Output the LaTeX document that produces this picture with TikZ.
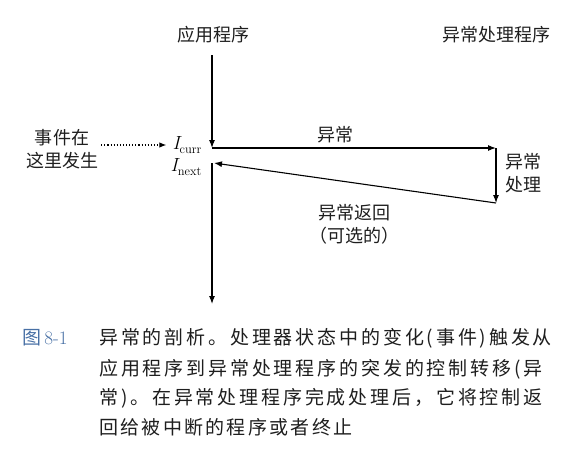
\documentclass[tikz,border=0pt]{standalone}
\usepackage[no-math]{fontspec}
\usepackage{amsmath}
\usepackage{tikz}
\usetikzlibrary{arrows.meta, positioning}
\newfontfamily\cjk{Noto Sans CJK SC}
\newfontfamily\cjkcap[LetterSpace=15]{Noto Sans CJK SC}
\newfontfamily\cjkcaplast[LetterSpace=12]{Noto Sans CJK SC}
\definecolor{figblue}{RGB}{72,112,165}
\definecolor{captext}{RGB}{30,30,30}
\newcommand{\instr}[1]{{\fontsize{19}{20}\selectfont\itshape I}\raisebox{-3.5pt}{\fontsize{12.5}{13}\selectfont #1}}

\begin{document}
\begin{tikzpicture}[x=1pt, y=-1pt,
    lbl/.style={font=\cjk\fontsize{18}{23}\selectfont, inner sep=0pt, text=captext},
    ilbl/.style={inner sep=0pt},
    flow/.style={line width=1.1pt, -{Latex[length=8pt, width=6pt]}},
    dotflow/.style={dotted, line width=1.1pt, -{Latex[length=7pt, width=5.5pt]}},
    capline/.style={anchor=west, inner sep=0pt, font=\cjkcap\fontsize{19}{24}\selectfont, text=captext}]
    \useasboundingbox (0,0) rectangle (564,461);

    % Column headings
    \node[lbl] at (213,35) (app) {应用程序};
    \node[lbl] at (496,35) (handler) {异常处理程序};

    % Control flow points
    \coordinate (top) at (212,55);
    \coordinate (curr) at (212,148);
    \coordinate (hstart) at (496,148);
    \coordinate (hend) at (496,203);
    \coordinate (next) at (214,163);
    \coordinate (bottom) at (212,304);

    % Control flow
    \draw[flow] (top) -- (curr);
    \draw[flow] (curr) -- (hstart);
    \draw[flow] (hstart) -- (hend);
    \draw[flow] (hend) -- (next);
    \draw[flow] (next -| bottom) -- (bottom);

    % Instruction labels
    \node[ilbl] at (187,145) (icurr) {\instr{curr}};
    \node[ilbl] at (186,167) (inext) {\instr{next}};

    % Event
    \node[lbl, align=center] at (62,149) (event) {事件在\\这里发生};
    \draw[dotflow, shorten <=3pt, shorten >=6pt] (event.east |- icurr.west) -- (icurr.west);

    % Arrow labels
    \node[lbl] at (335,135) (exc) {异常};
    \node[lbl, align=center] at (523,173) (handle) {异常\\处理};
    \node[lbl, align=center] at (354,224) (ret) {异常返回\\（可选的）};

    % Caption
    \node[anchor=west, inner sep=0pt, text=figblue, font=\fontsize{19}{24}\selectfont] at (22,338) (fignum) {{\cjk 图}\,8-1};
    \node[capline] at (99,338) (cap1) {异常的剖析。处理器状态中的变化(事件)触发从};
    \node[capline] at (99,369) (cap2) {应用程序到异常处理程序的突发的控制转移(异};
    \node[capline] at (99,398) (cap3) {常)。在异常处理程序完成处理后，它将控制返};
    \node[capline, font=\cjkcaplast\fontsize{19}{24}\selectfont] at (99,427) (cap4) {回给被中断的程序或者终止};
\end{tikzpicture}
\end{document}
